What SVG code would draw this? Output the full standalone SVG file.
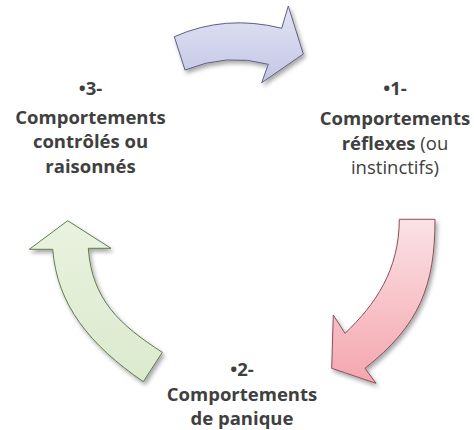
<svg xmlns="http://www.w3.org/2000/svg" width="474" height="430" viewBox="0 0 474 430">
<defs>
<filter id="sh" x="-20%" y="-20%" width="140%" height="140%">
<feDropShadow dx="2" dy="3" stdDeviation="2.2" flood-color="#000" flood-opacity="0.35"/>
</filter>
<linearGradient id="gBlue" x1="0" y1="0" x2="0" y2="1">
<stop offset="0" stop-color="#e2e3f4"/><stop offset="1" stop-color="#c4c6e6"/>
</linearGradient>
<linearGradient id="gRed" x1="0" y1="0" x2="0" y2="1">
<stop offset="0" stop-color="#fae2e5"/><stop offset="1" stop-color="#f5a6ae"/>
</linearGradient>
<linearGradient id="gGreen" x1="0" y1="0" x2="0" y2="1">
<stop offset="0" stop-color="#e9f2df"/><stop offset="1" stop-color="#dbeacd"/>
</linearGradient>
</defs>
<style>
.arr{stroke-width:1;stroke-linejoin:miter;filter:url(#sh)}
.t{font-family:"Open Sans","DejaVu Sans",sans-serif;font-size:18.5px;fill:#404040;text-anchor:middle}
.b{font-weight:bold}
</style>
<g id="connectors">
<path id="arrow-top" class="arr" fill="url(#gBlue)" stroke="#5f6083" d="M174.3,36.7 Q225.4,14.1 281.7,28.3 L288.3,6 L303.3,54 L261.7,82.7 L268.3,64.3 Q226.8,52.8 185,70 Z"/>
<path id="arrow-right" class="arr" fill="url(#gRed)" stroke="#8a5058" d="M399.3,219.3 L435,219.3 C435,285 420,325 365,368.3 L376,383.3 L331.7,368.3 L333.3,315 L345,333.3 C375,305 399.3,270 399.3,219.3 Z"/>
<path id="arrow-left" class="arr" fill="url(#gGreen)" stroke="#5e7b4e" d="M67.7,220.7 L111,248.3 L88.3,248.3 C92,300 120,325 162.3,352.3 L143.3,381.7 C90,345 57,305 52.7,249.3 L29.3,249.3 Z"/>
</g>
<g id="node1">
<text class="t b" x="395" y="95">•1-</text>
<text class="t b" x="395" y="125">Comportements</text>
<text class="t" x="395" y="149.5"><tspan class="b">réflexes</tspan> (ou</text>
<text class="t" x="395" y="174.3">instinctifs)</text>
</g>
<g id="node2">
<text class="t b" x="242" y="375.5">•2-</text>
<text class="t b" x="242" y="401">Comportements</text>
<text class="t b" x="242" y="424.8">de panique</text>
</g>
<g id="node3">
<text class="t b" x="90.5" y="95">•3-</text>
<text class="t b" x="90.5" y="124.3">Comportements</text>
<text class="t b" x="90.5" y="148.3">contrôlés ou</text>
<text class="t b" x="90.5" y="173.3">raisonnés</text>
</g>
</svg>
